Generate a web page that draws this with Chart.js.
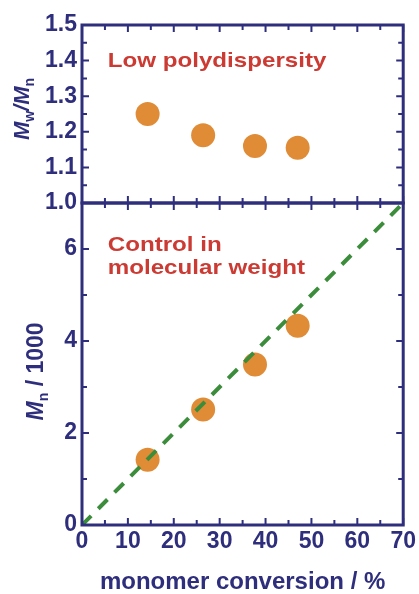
<!DOCTYPE html>
<html>
<head>
<meta charset="utf-8">
<script src="https://cdn.jsdelivr.net/npm/chart.js@4.4.0/dist/chart.umd.min.js"></script>
<style>
  html, body { margin: 0; padding: 0; background: #fff; }
  #wrap { width: 419px; height: 594px; }
</style>
</head>
<body>
<div id="wrap"><canvas id="c"></canvas></div>
<script>
// ---- data ----
const conversion = [14.3, 26.4, 37.7, 47.0];      // monomer conversion / %
const pdi = [1.25, 1.19, 1.16, 1.155];           // Mw/Mn
const mn = [1.42, 2.51, 3.49, 4.33];             // Mn / 1000
const fitX = [0, 70];                            // theoretical line
const fitY = [0, 7];
const xTicks = [0, 10, 20, 30, 40, 50, 60, 70];
const topTicks = [1.0, 1.1, 1.2, 1.3, 1.4, 1.5];
const botTicks = [0, 2, 4, 6];

const NAVY = "#2e2e7c";
const ORANGE = "#e08b36";
const GREEN = "#3b8d3b";
const RED = "#cc3b33";
const FONT = "'Liberation Sans', Arial, sans-serif";

const pts = (xs, ys) => xs.map((x, i) => ({ x: x, y: ys[i] }));

// frame + inward ticks + y titles + annotations
const framePlugin = {
    id: "frame",
    afterDraw(chart) {
        const ctx = chart.ctx;
        const xs = chart.scales.x;
        const panels = [
            { s: chart.scales.yTop, major: 0.1, minor: 0.05 },
            { s: chart.scales.yBot, major: 2, minor: 1 }
        ];
        ctx.save();
        ctx.strokeStyle = NAVY;
        ctx.lineCap = "butt";

        panels.forEach(p => {
            const t = p.s.top, b = p.s.bottom, l = xs.left, r = xs.right;
            // ticks
            ctx.lineWidth = 2;
            ctx.beginPath();
            for (let v = 0; v <= 70.001; v += 5) {
                const px = xs.getPixelForValue(v);
                const len = (Math.round(v) % 10 === 0) ? 7 : 5;
                ctx.moveTo(px, t); ctx.lineTo(px, t + len);
                ctx.moveTo(px, b); ctx.lineTo(px, b - len);
            }
            const steps = Math.round((p.s.max - p.s.min) / p.minor);
            for (let i = 0; i <= steps; i++) {
                const v = p.s.min + i * p.minor;
                const py = p.s.getPixelForValue(v);
                const len = (i % Math.round(p.major / p.minor) === 0) ? 7 : 5;
                ctx.moveTo(l, py); ctx.lineTo(l + len, py);
                ctx.moveTo(r, py); ctx.lineTo(r - len, py);
            }
            ctx.stroke();
            // box
            ctx.lineWidth = 3;
            ctx.strokeRect(l, t, r - l, b - t);
        });

        // annotations (font in the original is a bit wider than Liberation)
        const note = (txt, x, y) => {
            ctx.save();
            ctx.translate(x, y);
            ctx.scale(1.15, 1);
            ctx.fillStyle = RED;
            ctx.font = "bold 21px " + FONT;
            ctx.textBaseline = "alphabetic";
            ctx.textAlign = "left";
            ctx.fillText(txt, 0, 0);
            ctx.restore();
        };
        const ax = xs.getPixelForValue(5.6);
        note("Low polydispersity", ax, chart.scales.yTop.getPixelForValue(1.381));
        note("Control in", ax, chart.scales.yBot.getPixelForValue(5.96));
        note("molecular weight", ax, chart.scales.yBot.getPixelForValue(5.455));

        // y titles with subscripts
        const drawRot = (parts, cx, cy) => {
            ctx.save();
            ctx.translate(cx, cy);
            ctx.rotate(-Math.PI / 2);
            ctx.fillStyle = NAVY;
            ctx.textBaseline = "alphabetic";
            let w = 0;
            parts.forEach(p => { ctx.font = p.f; w += ctx.measureText(p.t).width; });
            let x = -w / 2;
            parts.forEach(p => {
                ctx.font = p.f;
                ctx.fillText(p.t, x, p.dy || 0);
                x += ctx.measureText(p.t).width;
            });
            ctx.restore();
        };
        const big = "italic bold 22px " + FONT;
        const sub = "bold 14px " + FONT;
        const reg = "bold 23px " + FONT;
        drawRot([
            { t: "M", f: big }, { t: "w", f: sub, dy: 5 },
            { t: "/", f: big }, { t: "M", f: big }, { t: "n", f: sub, dy: 5 }
        ], 29, chart.scales.yTop.getPixelForValue(1.264));
        drawRot([
            { t: "M", f: "italic bold 23px " + FONT }, { t: "n", f: sub, dy: 5 }, { t: " / 1000", f: reg }
        ], 43, chart.scales.yBot.getPixelForValue(3.34));
        ctx.restore();
    }
};

const tickFont = { family: FONT, size: 23, weight: "bold" };

new Chart(document.getElementById("c"), {
    type: "scatter",
    data: {
        datasets: [
            {
                type: "line",
                label: "theory",
                data: pts(fitX, fitY),
                yAxisID: "yBot",
                borderColor: GREEN,
                borderWidth: 4,
                borderDash: [13, 10],
                pointRadius: 0,
                fill: false
            },
            {
                label: "Mn",
                data: pts(conversion, mn),
                yAxisID: "yBot",
                backgroundColor: ORANGE,
                borderWidth: 0,
                pointRadius: 12,
                pointHoverRadius: 12
            },
            {
                label: "PDI",
                data: pts(conversion, pdi),
                yAxisID: "yTop",
                backgroundColor: ORANGE,
                borderWidth: 0,
                pointRadius: 12,
                pointHoverRadius: 12
            }
        ]
    },
    options: {
        responsive: true,
        maintainAspectRatio: false,
        animation: false,
        layout: { padding: { left: 12, top: 25, right: 14, bottom: 0 } },
        plugins: {
            legend: { display: false },
            tooltip: { enabled: false }
        },
        scales: {
            x: {
                type: "linear",
                min: 0,
                max: 70,
                afterBuildTicks: s => { s.ticks = xTicks.map(v => ({ value: v })); },
                afterFit: s => { s.height = 69; },
                grid: { display: false, drawTicks: false },
                border: { display: false },
                ticks: {
                    color: NAVY,
                    padding: 3,
                    maxRotation: 0,
                    autoSkip: false,
                    font: tickFont
                },
                title: {
                    display: true,
                    text: "monomer conversion / %",
                    color: NAVY,
                    padding: { top: 0, bottom: -3 },
                    font: { family: FONT, size: 24, weight: "bold" }
                }
            },
            yBot: {
                type: "linear",
                position: "left",
                stack: "panels",
                stackWeight: 322,
                min: 0,
                max: 7,
                afterBuildTicks: s => { s.ticks = botTicks.map(v => ({ value: v })); },
                afterFit: s => { s.width = 70; },
                grid: { display: false, drawTicks: false },
                border: { display: false },
                ticks: {
                    color: NAVY,
                    padding: 5,
                    autoSkip: false,
                    font: tickFont
                }
            },
            yTop: {
                type: "linear",
                position: "left",
                stack: "panels",
                stackWeight: 178,
                min: 1.0,
                max: 1.5,
                afterBuildTicks: s => { s.ticks = topTicks.map(v => ({ value: v })); },
                afterFit: s => { s.width = 70; },
                grid: { display: false, drawTicks: false },
                border: { display: false },
                ticks: {
                    color: NAVY,
                    padding: 5,
                    autoSkip: false,
                    callback: v => Number(v).toFixed(1),
                    font: tickFont
                }
            }
        }
    },
    plugins: [framePlugin]
});
</script>
</body>
</html>
